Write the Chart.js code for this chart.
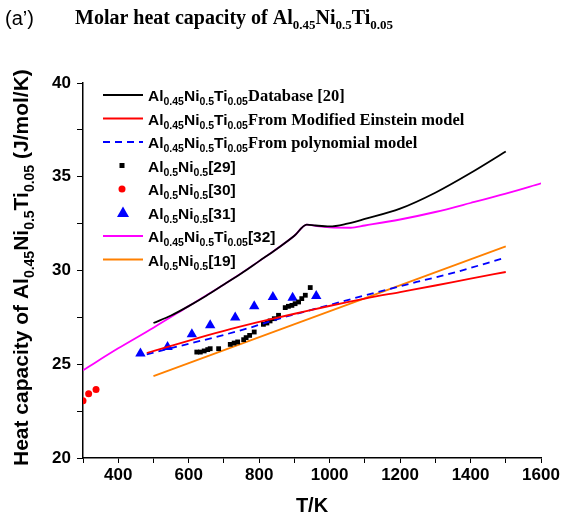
<!DOCTYPE html>
<html>
<head>
<meta charset="utf-8">
<script src="https://cdn.jsdelivr.net/npm/chart.js@4.4.0/dist/chart.umd.min.js"></script>
<style>
  body { margin: 0; background: #fff; }
  #wrap { width: 567px; height: 518px; position: relative; }
</style>
</head>
<body>
<div id="wrap"><canvas id="cp"></canvas></div>
<script>
// Database [20]
const dbT  = [500, 550, 600, 650, 700, 750, 800, 850, 900, 935, 960, 1000, 1050, 1100, 1200, 1300, 1400, 1500];
const dbCp = [27.2, 27.6, 28.1, 28.65, 29.25, 29.85, 30.5, 31.15, 31.85, 32.45, 32.4, 32.35, 32.5, 32.75, 33.3, 34.15, 35.2, 36.35];
// Modified Einstein model
const einT  = [481, 550, 623, 718, 812, 907, 1002, 1100, 1200, 1300, 1400, 1500];
const einCp = [25.6, 25.98, 26.38, 26.87, 27.31, 27.72, 28.12, 28.5, 28.85, 29.2, 29.57, 29.92];
// polynomial model
const polT  = [481, 576, 670, 765, 860, 964, 1100, 1247, 1342, 1500];
const polCp = [25.53, 25.98, 26.42, 26.9, 27.45, 27.98, 28.67, 29.39, 29.83, 30.69];
// Al0.5Ni0.5 [29]
const sq29T  = [623, 633, 644, 654, 661, 685, 718, 729, 739, 756, 763, 773, 786, 812, 822, 831, 843, 855, 874, 883, 893, 902, 912, 921, 931, 945];
const sq29Cp = [25.65, 25.65, 25.71, 25.78, 25.83, 25.83, 26.06, 26.13, 26.19, 26.31, 26.42, 26.54, 26.72, 27.13, 27.2, 27.31, 27.43, 27.61, 28.02, 28.09, 28.14, 28.23, 28.32, 28.5, 28.68, 29.09];
// Al0.5Ni0.5 [30]
const dot30T  = [300, 316, 337];
const dot30Cp = [23.05, 23.43, 23.65];
// Al0.5Ni0.5 [31]
const tri31T  = [463, 540, 609, 661, 732, 786, 839, 895, 962];
const tri31Cp = [25.57, 25.92, 26.6, 27.08, 27.49, 28.09, 28.59, 28.55, 28.64];
// Al0.45Ni0.5Ti0.05 [32]
const ref32T  = [300, 400, 500, 600, 700, 800, 900, 935, 970, 1000, 1060, 1100, 1200, 1300, 1400, 1500, 1600];
const ref32Cp = [24.68, 25.85, 26.95, 28.1, 29.25, 30.5, 31.85, 32.45, 32.35, 32.3, 32.28, 32.4, 32.72, 33.12, 33.6, 34.1, 34.65];
// Al0.5Ni0.5 [19]
const ref19T  = [500, 1500];
const ref19Cp = [24.37, 31.29];

const xTicksMin = 300, xTicksMax = 1600;
const yTicksMin = 20, yTicksMax = 40;

const pts = (xs, ys) => xs.map((x, i) => ({x: x, y: ys[i]}));

const SANS = 'Arial, "Liberation Sans", sans-serif';
const SERIF = '"Times New Roman", "Liberation Serif", serif';

function formula(big, small, fam, items) {
  // items like [['Al','0.45'],['Ni','0.5']]
  const out = [];
  items.forEach(p => {
    out.push({t: p[0], font: 'bold ' + big + 'px ' + fam});
    out.push({t: p[1], font: 'bold ' + small + 'px ' + fam, dy: Math.round(small * 0.4)});
  });
  return out;
}
const alniti = [['Al', '0.45'], ['Ni', '0.5'], ['Ti', '0.05']];
const alni = [['Al', '0.5'], ['Ni', '0.5']];

function drawRich(ctx, parts, x, y) {
  parts.forEach(p => {
    ctx.font = p.font;
    ctx.fillText(p.t, x, y + (p.dy || 0));
    x += ctx.measureText(p.t).width;
  });
  return x;
}

const legendRows = [
  {kind: 'line', color: '#000000', parts: formula(15.5, 10.5, SANS, alniti).concat([{t: 'Database [20]', font: 'bold 16.5px ' + SERIF}])},
  {kind: 'line', color: '#ff0000', parts: formula(15.5, 10.5, SANS, alniti).concat([{t: 'From Modified Einstein model', font: 'bold 16.5px ' + SERIF}])},
  {kind: 'dash', color: '#0000ff', parts: formula(15.5, 10.5, SANS, alniti).concat([{t: 'From polynomial model', font: 'bold 16.5px ' + SERIF}])},
  {kind: 'rect', color: '#000000', parts: formula(15.5, 10.5, SANS, alni).concat([{t: '[29]', font: 'bold 15.5px ' + SANS}])},
  {kind: 'circle', color: '#ff0000', parts: formula(15.5, 10.5, SANS, alni).concat([{t: '[30]', font: 'bold 15.5px ' + SANS}])},
  {kind: 'triangle', color: '#0000ff', parts: formula(15.5, 10.5, SANS, alni).concat([{t: '[31]', font: 'bold 15.5px ' + SANS}])},
  {kind: 'line', color: '#ff00ff', parts: formula(15.5, 10.5, SANS, alniti).concat([{t: '[32]', font: 'bold 15.5px ' + SANS}])},
  {kind: 'line', color: '#ff8000', parts: formula(15.5, 10.5, SANS, alni).concat([{t: '[19]', font: 'bold 15.5px ' + SANS}])}
];

const textPlugin = {
  id: 'textPlugin',
  afterDraw(chart) {
    const ctx = chart.ctx;
    ctx.save();
    ctx.fillStyle = '#000';
    ctx.textBaseline = 'alphabetic';
    ctx.textAlign = 'left';

    // panel label and title
    ctx.font = '20px ' + SANS;
    ctx.fillText('(a\u2019)', 5, 25);
    drawRich(ctx, [{t: 'Molar heat capacity of ', font: 'bold 20px ' + SERIF}].concat(formula(20, 13, SERIF, alniti)), 75, 24);

    // y axis title
    ctx.save();
    ctx.translate(28, 466);
    ctx.rotate(-Math.PI / 2);
    drawRich(ctx, [{t: 'Heat capacity of ', font: 'bold 21px ' + SANS}]
      .concat(formula(21, 14, SANS, alniti))
      .concat([{t: ' (J/mol/K)', font: 'bold 21px ' + SANS}]), 0, 0);
    ctx.restore();

    // legend
    const x0 = 103, x1 = 143, xt = 148;
    legendRows.forEach((r, i) => {
      const y = 95 + i * 23.5;
      ctx.strokeStyle = r.color;
      ctx.fillStyle = r.color;
      ctx.lineWidth = 1.8;
      if (r.kind === 'line' || r.kind === 'dash') {
        ctx.setLineDash(r.kind === 'dash' ? [7, 5] : []);
        ctx.beginPath(); ctx.moveTo(x0, y); ctx.lineTo(x1, y); ctx.stroke();
        ctx.setLineDash([]);
      } else if (r.kind === 'rect') {
        ctx.fillRect(119.5, y - 2.5, 5, 5);
      } else if (r.kind === 'circle') {
        ctx.beginPath(); ctx.arc(122, y, 3.5, 0, Math.PI * 2); ctx.fill();
      } else {
        ctx.beginPath(); ctx.moveTo(123, y - 6); ctx.lineTo(129, y + 4.5); ctx.lineTo(117, y + 4.5); ctx.closePath(); ctx.fill();
      }
      ctx.fillStyle = '#000';
      drawRich(ctx, r.parts, xt, y + 6);
    });
    ctx.restore();
  }
};

const lineDs = (label, data, color, dash) => ({
  label: label, data: data, borderColor: color, backgroundColor: color,
  borderWidth: 1.8, pointRadius: 0, borderDash: dash || [], showLine: true,
  cubicInterpolationMode: 'monotone', fill: false
});
const markDs = (label, data, color, style, r) => ({
  label: label, data: data, borderColor: color, backgroundColor: color,
  pointStyle: style, pointRadius: r, pointBorderWidth: 0, showLine: false
});

new Chart(document.getElementById('cp'), {
  type: 'line',
  data: {
    datasets: [
      lineDs('Database [20]', pts(dbT, dbCp), '#000000'),
      lineDs('From Modified Einstein model', pts(einT, einCp), '#ff0000'),
      lineDs('From polynomial model', pts(polT, polCp), '#0000ff', [7, 5]),
      markDs('[29]', pts(sq29T, sq29Cp), '#000000', 'rect', 3.4),
      markDs('[30]', pts(dot30T, dot30Cp), '#ff0000', 'circle', 3.5),
      markDs('[31]', pts(tri31T, tri31Cp), '#0000ff', 'triangle', 6),
      lineDs('[32]', pts(ref32T, ref32Cp), '#ff00ff'),
      lineDs('[19]', pts(ref19T, ref19Cp), '#ff8000')
    ]
  },
  options: {
    responsive: true,
    maintainAspectRatio: false,
    animation: false,
    layout: { padding: { left: 0, right: 26, top: 83, bottom: 0 } },
    plugins: { legend: { display: false }, title: { display: false }, tooltip: { enabled: false } },
    scales: {
      x: {
        type: 'linear', min: xTicksMin, max: xTicksMax,
        border: { display: true, color: '#000', width: 1.5 },
        grid: { drawOnChartArea: false, drawTicks: true, tickLength: 5, tickColor: '#000', tickWidth: 1 },
        ticks: {
          stepSize: 100, autoSkip: false, maxRotation: 0, padding: 2, color: '#000',
          font: { family: SANS, size: 17, weight: 'bold' },
          callback: v => (v % 200 === 0 ? String(v) : '')
        },
        title: { display: true, text: 'T/K', color: '#000', font: { family: SANS, size: 20, weight: 'bold' }, padding: { top: 4, bottom: 0 } },
        afterFit: s => { s.height = 60; }
      },
      y: {
        type: 'linear', min: yTicksMin, max: yTicksMax,
        border: { display: true, color: '#000', width: 1.5 },
        grid: { drawOnChartArea: false, drawTicks: true, tickLength: 6, tickColor: '#000', tickWidth: 1 },
        ticks: {
          stepSize: 2.5, autoSkip: false, padding: 6, color: '#000',
          font: { family: SANS, size: 17, weight: 'bold' },
          callback: v => (v % 5 === 0 ? String(v) : '')
        },
        afterFit: s => { s.width = 83; }
      }
    }
  },
  plugins: [textPlugin]
});
</script>
</body>
</html>
